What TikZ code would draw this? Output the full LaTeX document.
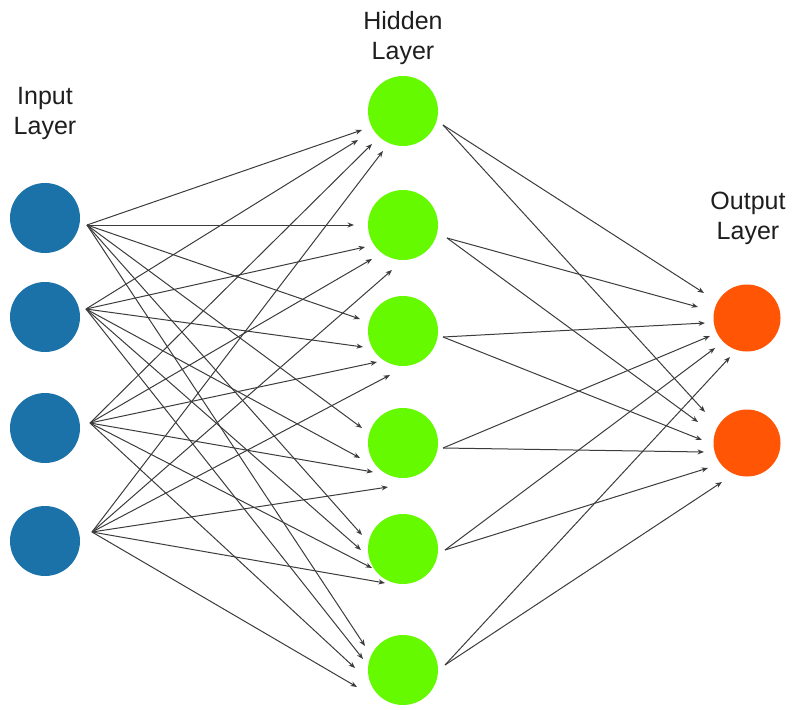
\documentclass[tikz,border=0pt]{standalone}
\usepackage{fontspec}
\setmainfont{Liberation Sans}
\usetikzlibrary{arrows.meta}
\definecolor{inblue}{RGB}{26,114,168}
\definecolor{hidgreen}{RGB}{102,250,0}
\definecolor{outorange}{RGB}{255,85,5}
\definecolor{wirecol}{RGB}{60,60,60}
\definecolor{labelcol}{RGB}{30,30,30}
\begin{document}
\begin{tikzpicture}[x=1pt,y=-1pt,
  neuron/.style={circle,minimum size=70pt,inner sep=0pt,draw=none},
  innode/.style={neuron,fill=inblue},
  hidnode/.style={neuron,fill=hidgreen},
  outnode/.style={neuron,fill=outorange,minimum size=67pt},
  layerlabel/.style={font=\fontsize{25}{30}\selectfont,align=center,anchor=north,inner sep=0pt,text=labelcol},
  wire/.style={draw=wirecol,line width=1pt,-{Stealth[length=6.5pt,width=5pt]}}]
\useasboundingbox (0,0) rectangle (794,709);

% labels
\node[layerlabel] (linput) at (45,87) {Input\\Layer};
\node[layerlabel] (lhidden) at (403,11) {Hidden\\Layer};
\node[layerlabel] (loutput) at (748,192) {Output\\Layer};

% input nodes
\node[innode] (i1) at (45,218) {};
\node[innode] (i2) at (45,317) {};
\node[innode] (i3) at (45,428) {};
\node[innode] (i4) at (45,541) {};

% hidden nodes
\node[hidnode] (h1) at (403,111) {};
\node[hidnode] (h2) at (403,225) {};
\node[hidnode] (h3) at (403,331) {};
\node[hidnode] (h4) at (403,443) {};
\node[hidnode] (h5) at (403,549) {};
\node[hidnode] (h6) at (403,670) {};

% output nodes
\node[outnode] (o1) at (747,318) {};
\node[outnode] (o2) at (747,443) {};

% source points of connectors
\coordinate (is1) at (87,225);
\coordinate (is2) at (86,309);
\coordinate (is3) at (90,423);
\coordinate (is4) at (92,532);
\coordinate (hs1) at (443,125);
\coordinate (hs2) at (447,238);
\coordinate (hs3) at (443,337);
\coordinate (hs4) at (443,448);
\coordinate (hs5) at (445,550);
\coordinate (hs6) at (445,665);

% arrow tips at hidden nodes
\coordinate (h1-1) at (362,130); \coordinate (h1-2) at (358,140);
\coordinate (h1-3) at (372,144); \coordinate (h1-4) at (383,151);
\coordinate (h2-1) at (354,225); \coordinate (h2-2) at (365,247);
\coordinate (h2-3) at (372,259); \coordinate (h2-4) at (392,270);
\coordinate (h3-1) at (360,319); \coordinate (h3-2) at (363,347);
\coordinate (h3-3) at (377,362); \coordinate (h3-4) at (390,375);
\coordinate (h4-1) at (362,428); \coordinate (h4-2) at (360,458);
\coordinate (h4-3) at (373,472); \coordinate (h4-4) at (388,487);
\coordinate (h5-1) at (362,535); \coordinate (h5-2) at (361,550);
\coordinate (h5-3) at (372,568); \coordinate (h5-4) at (385,583);
\coordinate (h6-1) at (365,646); \coordinate (h6-2) at (363,659);
\coordinate (h6-3) at (355,668); \coordinate (h6-4) at (357,687);

% arrow tips at output nodes
\coordinate (o1-1) at (704,293); \coordinate (o1-2) at (698,307);
\coordinate (o1-3) at (705,323); \coordinate (o1-4) at (710,336);
\coordinate (o1-5) at (715,348); \coordinate (o1-6) at (730,357);
\coordinate (o2-1) at (705,412); \coordinate (o2-2) at (698,422);
\coordinate (o2-3) at (702,440); \coordinate (o2-4) at (704,452);
\coordinate (o2-5) at (708,468); \coordinate (o2-6) at (722,482);

% connectors
\foreach \j in {1,...,6}{
  \foreach \i in {1,...,4}{
    \draw[wire] (is\i) -- (h\j-\i);
  }
}
\foreach \k in {1,2}{
  \foreach \j in {1,...,6}{
    \draw[wire] (hs\j) -- (o\k-\j);
  }
}
\end{tikzpicture}
\end{document}
